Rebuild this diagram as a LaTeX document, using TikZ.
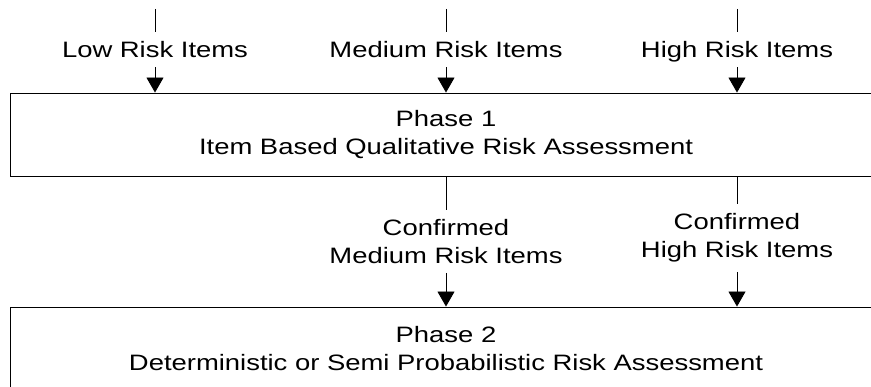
\documentclass[tikz,border=0pt]{standalone}
\usepackage{fontspec}
\setmainfont{Liberation Sans}[FakeStretch=1.23]
\usetikzlibrary{arrows.meta,positioning}

\begin{document}
\begin{tikzpicture}[x=1pt,y=-1pt,line width=0.9pt,
  every node/.style={font=\fontsize{22.3}{28}\selectfont},
  phasebox/.style={draw,minimum width=872pt,minimum height=83pt,align=center,inner sep=0pt},
  itemlbl/.style={inner sep=9pt,text height=16pt,text depth=0pt},
  conflbl/.style={inner sep=9pt,align=center},
  flow/.style={-{Triangle[width=17pt,length=15pt]}}]
  \useasboundingbox (0,0) rectangle (871,387);
  \clip (0,0) rectangle (871,387);
  % the two phases
  \node[phasebox] (phaseone) at (446,134.5) {Phase 1\\Item Based Qualitative Risk Assessment};
  \node[phasebox] (phasetwo) at (446,348.5) {Phase 2\\Deterministic or Semi Probabilistic Risk Assessment};
  % incoming items
  \coordinate (lowtop) at (155,9);
  \coordinate (medtop) at (446,9);
  \coordinate (hightop) at (737,9);
  \node[itemlbl] (lowitems) at (155,49.7) {Low Risk Items};
  \node[itemlbl] (meditems) at (446,49.7) {Medium Risk Items};
  \node[itemlbl] (highitems) at (737,49.7) {High Risk Items};
  \draw (lowtop) -- (lowitems.north);
  \draw (medtop) -- (meditems.north);
  \draw (hightop) -- (highitems.north);
  \draw[flow] (lowitems.south) -- (lowitems.south |- phaseone.north);
  \draw[flow] (meditems.south) -- (meditems.south |- phaseone.north);
  \draw[flow] (highitems.south) -- (highitems.south |- phaseone.north);
  % confirmed items
  \node[conflbl] (confmed) at (446,241.3) {Confirmed\\Medium Risk Items};
  \node[conflbl] (confhigh) at (737,238) {Confirmed\\High Risk Items};
  \draw (confmed.north |- phaseone.south) -- (confmed.north);
  \draw (confhigh.north |- phaseone.south) -- (confhigh.north);
  \draw[flow] (confmed.south) -- (confmed.south |- phasetwo.north);
  \draw[flow] (confhigh.south) -- (confhigh.south |- phasetwo.north);
\end{tikzpicture}
\end{document}
